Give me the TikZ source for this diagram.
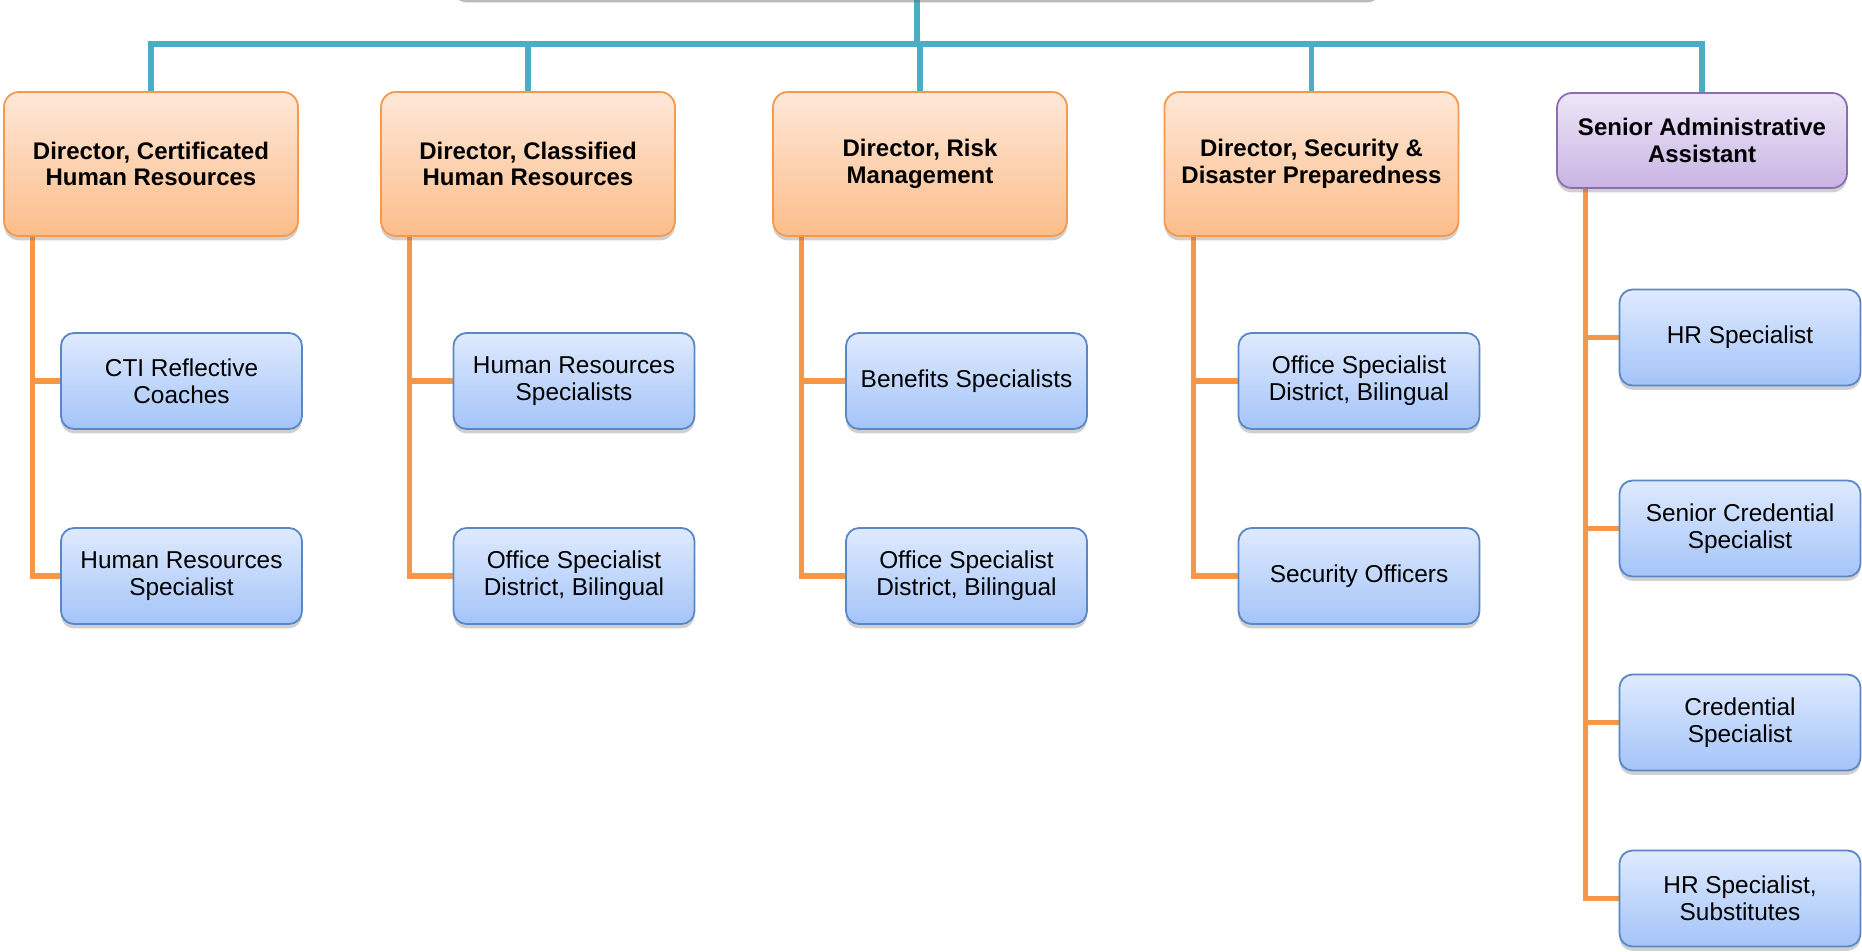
\documentclass[tikz,border=0pt]{standalone}
\usepackage{fontspec}
\setmainfont{Liberation Sans}
\usetikzlibrary{shadows,backgrounds}
\pgfdeclarelayer{bottom}
\pgfsetlayers{bottom,background,main}
\definecolor{cyanl}{HTML}{4BACC6}
\definecolor{orl}{HTML}{F79646}
\definecolor{ortop}{HTML}{FEE8D8}
\definecolor{orbot}{HTML}{FBBD8A}
\definecolor{orborder}{HTML}{F5994F}
\definecolor{bltop}{HTML}{DFEAFE}
\definecolor{blbot}{HTML}{A4C4F8}
\definecolor{blborder}{HTML}{5A88C6}
\definecolor{putop}{HTML}{EDE6F7}
\definecolor{pubot}{HTML}{C8B4E3}
\definecolor{puborder}{HTML}{8A70B2}
\tikzset{
  softshadow/.style={drop shadow={shadow xshift=0pt, shadow yshift=-2.2pt, opacity=0.3, fill=black!60}},
  dirbox/.style={draw=orborder, line width=0.9pt, rounded corners=7.5pt,
    top color=ortop, bottom color=orbot, minimum width=147pt, minimum height=72pt,
    align=center, inner sep=0pt, font=\fontsize{12}{13.25}\selectfont\bfseries, softshadow},
  adminbox/.style={draw=puborder, line width=0.9pt, rounded corners=7.5pt,
    top color=putop, bottom color=pubot, minimum width=145pt, minimum height=47.5pt,
    align=center, inner sep=0pt, font=\fontsize{12}{13.25}\selectfont\bfseries, softshadow},
  staffbox/.style={draw=blborder, line width=0.9pt, rounded corners=6.5pt,
    top color=bltop, bottom color=blbot, minimum width=120.5pt, minimum height=48pt,
    align=center, inner sep=0pt, font=\fontsize{12.2}{13.4}\selectfont, softshadow},
  topbox/.style={draw=white, fill=white, rounded corners=7.5pt, minimum width=465pt,
    minimum height=40pt, inner sep=0pt,
    drop shadow={shadow xshift=0pt, shadow yshift=-2.2pt, opacity=0.45, fill=black!60}},
  cyline/.style={draw=cyanl, line width=2.6pt},
  orline/.style={draw=orl, line width=2.6pt},
}
\begin{document}
\begin{tikzpicture}[x=0.5pt, y=-0.5pt]
\useasboundingbox (0,0) rectangle (1862,952);
\begin{pgfonlayer}{bottom}
\fill[white] (0,0) rectangle (1862,952);
\end{pgfonlayer}

% top (cut off) box
\node[topbox] (top) at (917,-42) {};

% directors
\node[dirbox] (d1) at (151,164) {Director, Certificated\\Human Resources};
\node[dirbox] (d2) at (528,164) {Director, Classified\\Human Resources};
\node[dirbox] (d3) at (920,164) {Director, Risk\\Management};
\node[dirbox] (d4) at (1311.5,164) {Director, Security \&\\Disaster Preparedness};
\node[adminbox] (d5) at (1702,140.5) {Senior Administrative\\Assistant};

% staff
\node[staffbox] (c11) at (181.5,381) {CTI Reflective\\Coaches};
\node[staffbox] (c12) at (181.5,576) {Human Resources\\Specialist};
\node[staffbox] (c21) at (574,381) {Human Resources\\Specialists};
\node[staffbox] (c22) at (574,576) {Office Specialist\\District, Bilingual};
\node[staffbox] (c31) at (966.5,381) {Benefits Specialists};
\node[staffbox] (c32) at (966.5,576) {Office Specialist\\District, Bilingual};
\node[staffbox] (c41) at (1359,381) {Office Specialist\\District, Bilingual};
\node[staffbox] (c42) at (1359,576) {Security Officers};
\node[staffbox] (c51) at (1740,337.5) {HR Specialist};
\node[staffbox] (c52) at (1740,528.5) {Senior Credential\\Specialist};
\node[staffbox] (c53) at (1740,722.5) {Credential\\Specialist};
\node[staffbox] (c54) at (1740,898.5) {HR Specialist,\\Substitutes};

\coordinate (bus) at (0,44);

\begin{pgfonlayer}{background}
  \foreach \d in {d1,d2,d3,d4,d5}
    \draw[cyline] (top.south) -- (top.south |- bus) -| (\d.north);
  \foreach \d/\c in {d1/c11,d1/c12,d2/c21,d2/c22,d3/c31,d3/c32,d4/c41,d4/c42,d5/c51,d5/c52,d5/c53,d5/c54}
    \draw[orline] (\d.south west) ++(29.5,0) |- (\c.west);
\end{pgfonlayer}
\end{tikzpicture}
\end{document}
